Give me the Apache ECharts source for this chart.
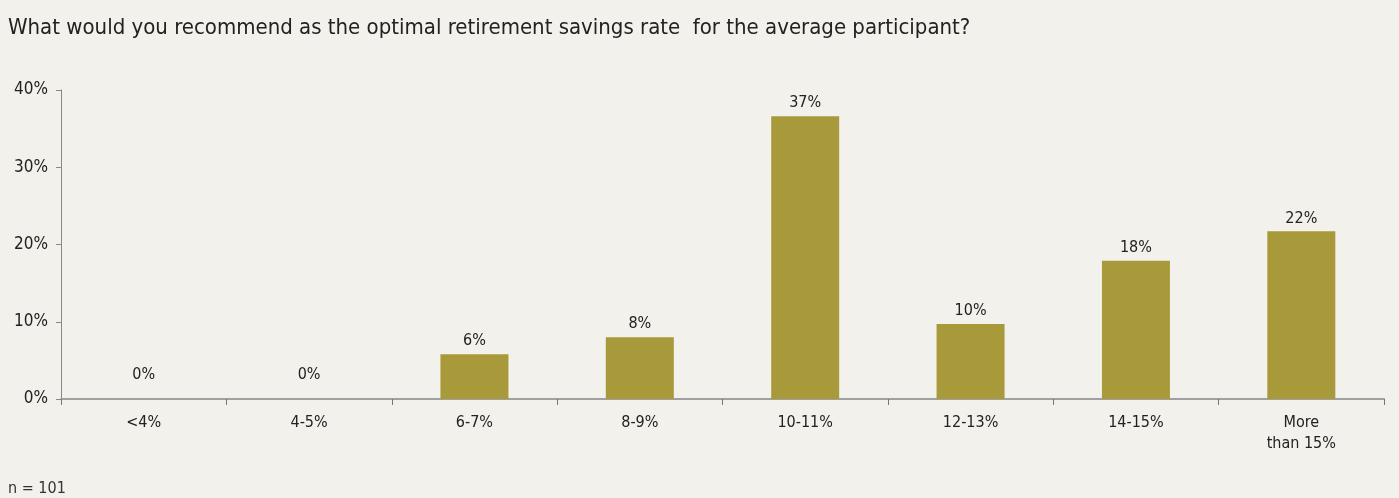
<!DOCTYPE html>
<html>
<head>
<meta charset="utf-8">
<script src="https://cdn.jsdelivr.net/npm/echarts@6/dist/echarts.min.js"></script>
<style>
  html, body { margin: 0; padding: 0; background: #f3f1eb; }
  #chart { width: 1399px; height: 498px; }
</style>
</head>
<body>
<div id="chart"></div>
<script>
const categories = ['<4%', '4-5%', '6-7%', '8-9%', '10-11%', '12-13%', '14-15%', 'More\nthan 15%']
const shares = [0, 0, 5.8, 8.0, 36.6, 9.7, 17.9, 21.7]
const yTicks = [0, 10, 20, 30, 40]

const font = '"Liberation Sans Narrow", "DejaVu Sans Condensed", sans-serif'
const chart = echarts.init(document.getElementById('chart'))

// zero bars carry their label a bit higher, like the original
const barData = shares.map(v => v === 0 ? { value: v, label: { distance: 16 } } : v)

chart.setOption({
  backgroundColor: '#f3f1eb',
  animation: false,
  textStyle: { fontFamily: font },
  title: [
    {
      text: 'What would you recommend as the optimal retirement savings rate  for the average participant?',
      left: 3,
      top: 12,
      textStyle: { fontFamily: font, fontSize: 22, fontWeight: 'normal', color: '#222' }
    },
    {
      text: 'n = 101',
      left: 3,
      top: 476,
      textStyle: { fontFamily: font, fontSize: 16, fontWeight: 'normal', color: '#333' }
    }
  ],
  grid: { left: 61, right: 15, top: 90, bottom: 99 },
  xAxis: {
    type: 'category',
    data: categories,
    axisLine: { lineStyle: { color: '#a0a0a0', width: 2 } },
    axisTick: { show: true, length: 6, lineStyle: { color: '#777', width: 1 } },
    axisLabel: { fontFamily: font, fontSize: 16, color: '#222', margin: 13, lineHeight: 21, interval: 0 }
  },
  yAxis: {
    type: 'value',
    min: yTicks[0],
    max: yTicks[yTicks.length - 1],
    interval: 10,
    splitLine: { show: false },
    axisLine: { show: true, lineStyle: { color: '#888', width: 1 } },
    axisTick: { show: true, length: 5, lineStyle: { color: '#888' } },
    axisLabel: { fontFamily: font, fontSize: 17, color: '#222', margin: 13, formatter: v => v + '%' }
  },
  series: [
    {
      type: 'bar',
      data: barData,
      barWidth: 68,
      itemStyle: { color: '#a89a3a' },
      label: {
        show: true,
        position: 'top',
        distance: 5,
        fontFamily: font,
        fontSize: 16,
        color: '#222',
        formatter: p => Math.round(p.value) + '%'
      }
    }
  ]
})
</script>
</body>
</html>
